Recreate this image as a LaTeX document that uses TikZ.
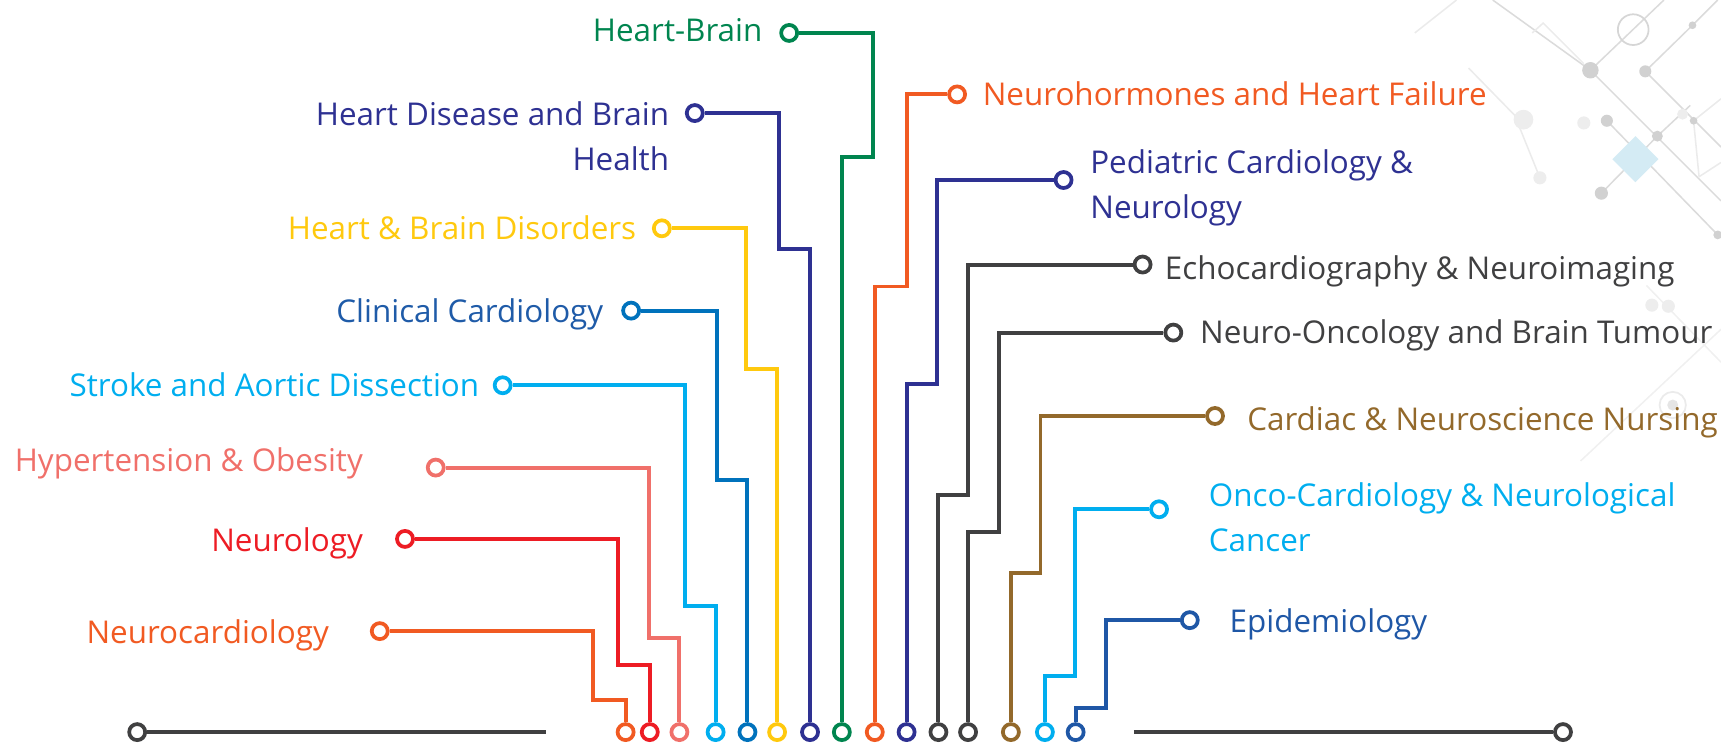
\documentclass[tikz,border=0pt]{standalone}
\usepackage{fontspec}
\setmainfont{Open Sans}
\usetikzlibrary{positioning}
\definecolor{ncOrange}{HTML}{F15A22}
\definecolor{neRed}{HTML}{ED1C24}
\definecolor{hoSalmon}{HTML}{F0706A}
\definecolor{skyBlue}{HTML}{00AEEF}
\definecolor{ccBlue}{HTML}{0072BC}
\definecolor{ccText}{HTML}{1F5BA8}
\definecolor{hbdYellow}{HTML}{FFC90E}
\definecolor{navyBlue}{HTML}{2E3192}
\definecolor{hbGreen}{HTML}{00854F}
\definecolor{darkGray}{HTML}{404041}
\definecolor{cnBrown}{HTML}{93692B}
\definecolor{epBlue}{HTML}{1F57A6}
\definecolor{bgDiamond}{HTML}{D4EBF4}
\tikzset{
  pin/.style={circle, draw, line width=1.7pt, fill=white,
    minimum size=7.3pt, inner sep=0pt},
  track/.style={line width=1.8pt},
  baseline/.style={line width=2pt, draw=darkGray},
  topic/.style={font=\fontsize{14.3}{20.5}\selectfont, inner sep=0pt},
  topicL/.style={topic, anchor=base east, align=right},
  topicR/.style={topic, anchor=base west, align=left},
  bgline/.style={draw=black!14, line width=0.7pt},
  bgdot/.style={fill=black!18},
}

\begin{document}
\begin{tikzpicture}[x=0.5pt, y=-0.5pt]
  \useasboundingbox (0,0) rectangle (1568,677);
  % circuit pattern behind, top right
  \draw[bgline] (1360,0) -- (1449,64) -- (1568,183);
  \draw[bgline] (1449,64) -- (1516,0);
  \draw[bgline] (1499,65) -- (1542,23) -- (1565,0);
  \draw[bgline] (1499,65) -- (1568,134);
  \draw[bgline] (1459,176) -- (1510,124) -- (1540,96);
  \draw[bgline] (1464,110) -- (1565,214);
  \draw[bgline, draw=black!8] (1289,30) -- (1327,0);
  \draw[bgline, draw=black!8] (1338,62) -- (1380,105) -- (1403,162);
  \draw[bgline, draw=black!8] (1396,30) -- (1406,21) -- (1443,58);
  \draw[bgline, draw=black!8] (1543,110) -- (1568,90);
  \draw[bgline, draw=black!8] (1543,110) -- (1548,161) -- (1568,148);
  \draw[bgline, draw=black!6] (1440,420) -- (1568,300);
  \draw[bgline, draw=black!6] (1500,260) -- (1568,330);
  \draw[black!16, line width=0.8pt] (1488,27) circle (14);
  \draw[black!8, line width=0.8pt] (1524,369) circle (12);
  \fill[bgDiamond] (1490,124) -- (1511,145) -- (1490,166) -- (1469,145) -- cycle;
  \fill[bgdot] (1449,64) circle (7.5);
  \fill[bgdot] (1499,65) circle (5.5);
  \fill[bgdot] (1542,23) circle (3.5);
  \fill[bgdot] (1464,110) circle (5.5);
  \fill[bgdot] (1510,124) circle (5);
  \fill[bgdot] (1459,176) circle (6);
  \fill[bgdot] (1543,110) circle (3.5);
  \fill[bgdot] (1565,214) circle (4);
  \fill[black!7] (1388,109) circle (9);
  \fill[black!7] (1443,112) circle (6);
  \fill[black!7] (1403,162) circle (6);
  \fill[black!7] (1533,104) circle (5);
  \fill[black!7] (1505,278) circle (6);
  \fill[black!7] (1520,279) circle (6);
  \fill[black!10] (1524,369) circle (5);

  % base line
  \node[pin, draw=darkGray] (baseL) at (125,667) {};
  \node[pin, draw=darkGray] (baseR) at (1424,667) {};
  \coordinate (baseLend) at (497,667);
  \coordinate (baseRend) at (1033,667);
  \draw[baseline] (baseL) -- (baseLend);
  \draw[baseline] (baseRend) -- (baseR);

  % left hand topics
  \node[pin, draw=ncOrange] (ncEnd) at (346,575) {};
  \node[pin, draw=ncOrange] (ncPin) at (570,667) {};
  \draw[track, draw=ncOrange] (ncEnd) -| (540,638) -| (ncPin);
  \node[topicL, text=ncOrange] (ncText) at ([xshift=-18.5pt, yshift=-5.5pt] ncEnd.west) {Neurocardiology};

  \node[pin, draw=neRed] (neEnd) at (369,491) {};
  \node[pin, draw=neRed] (nePin) at (592,667) {};
  \draw[track, draw=neRed] (neEnd) -| (563,606) -| (nePin);
  \node[topicL, text=neRed] (neText) at ([xshift=-14.5pt, yshift=-5.5pt] neEnd.west) {Neurology};

  \node[pin, draw=hoSalmon] (hoEnd) at (397,426) {};
  \node[pin, draw=hoSalmon] (hoPin) at (619,667) {};
  \draw[track, draw=hoSalmon] (hoEnd) -| (591,581) -| (hoPin);
  \node[topicL, text=hoSalmon] (hoText) at ([xshift=-28.5pt, yshift=-2pt] hoEnd.west) {Hypertension \& Obesity};

  \node[pin, draw=skyBlue] (saEnd) at (458,351) {};
  \node[pin, draw=skyBlue] (saPin) at (652,667) {};
  \draw[track, draw=skyBlue] (saEnd) -| (624,552) -| (saPin);
  \node[topicL, text=skyBlue] (saText) at ([xshift=-6pt, yshift=-5pt] saEnd.west) {Stroke and Aortic Dissection};

  \node[pin, draw=ccBlue] (ccEnd) at (575,283) {};
  \node[pin, draw=ccBlue] (ccPin) at (681,667) {};
  \draw[track, draw=ccBlue] (ccEnd) -| (653,437) -| (ccPin);
  \node[topicL, text=ccText] (ccText) at ([xshift=-8pt, yshift=-5.5pt] ccEnd.west) {Clinical Cardiology};

  \node[pin, draw=hbdYellow] (hbdEnd) at (603,208) {};
  \node[pin, draw=hbdYellow] (hbdPin) at (708,667) {};
  \draw[track, draw=hbdYellow] (hbdEnd) -| (680,336) -| (hbdPin);
  \node[topicL, text=hbdYellow] (hbdText) at ([xshift=-7pt, yshift=-5pt] hbdEnd.west) {Heart \& Brain Disorders};

  \node[pin, draw=navyBlue] (hdEnd) at (633,103) {};
  \node[pin, draw=navyBlue] (hdPin) at (738,667) {};
  \draw[track, draw=navyBlue] (hdEnd) -| (710,227) -| (hdPin);
  \node[topicL, text=navyBlue] (hdText) at ([xshift=-7pt, yshift=-26pt] hdEnd.west) {Heart Disease and Brain\\Health};

  \node[pin, draw=hbGreen] (hbEnd) at (719,30) {};
  \node[pin, draw=hbGreen] (hbPin) at (767,667) {};
  \draw[track, draw=hbGreen] (hbEnd) -| (795,143) -| (hbPin);
  \node[topicL, text=hbGreen] (hbText) at ([xshift=-7.5pt, yshift=-4pt] hbEnd.west) {Heart-Brain};

  % right hand topics
  \node[pin, draw=ncOrange] (nhEnd) at (872,86) {};
  \node[pin, draw=ncOrange] (nhPin) at (797,667) {};
  \draw[track, draw=ncOrange] (nhEnd) -| (826,261) -| (nhPin);
  \node[topicR, text=ncOrange] (nhText) at ([xshift=7pt, yshift=-5pt] nhEnd.east) {Neurohormones and Heart Failure};

  \node[pin, draw=navyBlue] (pcEnd) at (969,164) {};
  \node[pin, draw=navyBlue] (pcPin) at (826,667) {};
  \draw[track, draw=navyBlue] (pcEnd) -| (854,350) -| (pcPin);
  \node[topicR, text=navyBlue] (pcText) at ([xshift=7.5pt, yshift=-17.5pt] pcEnd.east) {Pediatric Cardiology \&\\Neurology};

  \node[pin, draw=darkGray] (ecEnd) at (1041,241) {};
  \node[pin, draw=darkGray] (ecPin) at (855,667) {};
  \draw[track, draw=darkGray] (ecEnd) -| (882,451) -| (ecPin);
  \node[topicR, text=darkGray] (ecText) at ([xshift=5.5pt, yshift=-7pt] ecEnd.east) {Echocardiography \& Neuroimaging};

  \node[pin, draw=darkGray] (noEnd) at (1069,303) {};
  \node[pin, draw=darkGray] (noPin) at (882,667) {};
  \draw[track, draw=darkGray] (noEnd) -| (910,485) -| (noPin);
  \node[topicR, text=darkGray] (noText) at ([xshift=7.5pt, yshift=-5pt] noEnd.east) {Neuro-Oncology and Brain Tumour};

  \node[pin, draw=cnBrown] (cnEnd) at (1107,379) {};
  \node[pin, draw=cnBrown] (cnPin) at (921,667) {};
  \draw[track, draw=cnBrown] (cnEnd) -| (948,522) -| (cnPin);
  \node[topicR, text=cnBrown] (cnText) at ([xshift=10pt, yshift=-6.5pt] cnEnd.east) {Cardiac \& Neuroscience Nursing};

  \node[pin, draw=skyBlue] (ocEnd) at (1056,464) {};
  \node[pin, draw=skyBlue] (ocPin) at (952,667) {};
  \draw[track, draw=skyBlue] (ocEnd) -| (979,616) -| (ocPin);
  \node[topicR, text=skyBlue] (ocText) at ([xshift=18pt, yshift=-19pt] ocEnd.east) {Onco-Cardiology \& Neurological\\Cancer};

  \node[pin, draw=epBlue] (epEnd) at (1084,565) {};
  \node[pin, draw=epBlue] (epPin) at (980,667) {};
  \draw[track, draw=epBlue] (epEnd) -| (1008,645) -| (epPin);
  \node[topicR, text=epBlue] (epText) at ([xshift=13.5pt, yshift=-5.5pt] epEnd.east) {Epidemiology};
\end{tikzpicture}
\end{document}
